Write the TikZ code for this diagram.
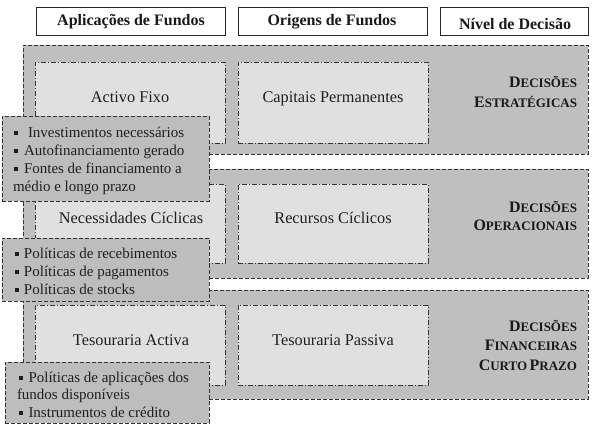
\documentclass[tikz,border=0pt]{standalone}
\usepackage{fontspec}
\setmainfont{Liberation Serif}
\newcommand{\mybul}{\rule[2pt]{4pt}{4pt}}
\newcommand{\scA}[1]{{\fontsize{16}{19}\selectfont #1}}
\newcommand{\scB}[1]{{\fontsize{13}{19}\selectfont #1}}
\begin{document}
\begin{tikzpicture}[x=1pt,y=-1pt,
  every node/.style={inner sep=0pt, outer sep=0pt},
  header/.style={draw=black!85, line width=0.9pt, fill=white},
  band/.style={draw=black!80, line width=0.9pt, dash pattern=on 4pt off 2pt, fill=black!25},
  inbox/.style={draw=black!80, line width=0.8pt, dash pattern=on 5pt off 2pt on 1pt off 2pt, fill=black!12},
  callout/.style={draw=black!80, line width=0.9pt, dash pattern=on 4pt off 2pt, fill=black!26},
  htext/.style={font=\bfseries\fontsize{16}{19}\selectfont, text=black!90, anchor=base},
  itext/.style={font=\fontsize{16.3}{19}\selectfont, text=black!88, anchor=base},
  ctext/.style={font=\fontsize{15}{18}\selectfont, text=black!88, anchor=base west},
  dtext/.style={font=\bfseries, text=black!90, anchor=base east}
]
\useasboundingbox (0,0) rectangle (593,428);
\fill[white] (0,0) rectangle (593,428);

% headers
\node[header, minimum width=189pt, minimum height=28pt] (h1) at (130.5,21) {};
\node[header, minimum width=189pt, minimum height=28pt] (h2) at (332.5,21) {};
\node[header, minimum width=148pt, minimum height=28pt] (h3) at (514,21) {};
\node[htext] (h1t) at (131,26) {Aplicações de Fundos};
\node[htext] (h2t) at (332,26) {Origens de Fundos};
\node[htext] (h3t) at (515,29.5) {Nível de Decisão};

% bands
\node[band, minimum width=565pt, minimum height=109pt] (b1) at (305.5,99.5) {};
\node[band, minimum width=565pt, minimum height=109pt] (b2) at (305.5,223.5) {};
\node[band, minimum width=565pt, minimum height=109pt] (b3) at (305.5,344.5) {};

% inner boxes
\node[inbox, minimum width=190pt, minimum height=81pt] (i11) at (130,102.5) {};
\node[inbox, minimum width=190pt, minimum height=81pt] (i12) at (333,102.5) {};
\node[inbox, minimum width=190pt, minimum height=79pt] (i21) at (130,223.5) {};
\node[inbox, minimum width=190pt, minimum height=79pt] (i22) at (333,223.5) {};
\node[inbox, minimum width=190pt, minimum height=80pt] (i31) at (130,345) {};
\node[inbox, minimum width=190pt, minimum height=80pt] (i32) at (333,345) {};

\node[itext] (t11) at (130,102) {Activo Fixo};
\node[itext] (t12) at (333,102) {Capitais Permanentes};
\node[itext] (t21) at (131,223) {Necessidades Cíclicas};
\node[itext] (t22) at (333,223) {Recursos Cíclicos};
\node[itext] (t31) at (131,345) {Tesouraria Activa};
\node[itext] (t32) at (333,345) {Tesouraria Passiva};

% decision levels
\node[dtext] (d11) at (577,87) {\scA{D}\scB{ECISÕES}};
\node[dtext] (d12) at (577,107) {\scA{E}\scB{STRATÉGICAS}};
\node[dtext] (d21) at (577,212) {\scA{D}\scB{ECISÕES}};
\node[dtext] (d22) at (577,230) {\scA{O}\scB{PERACIONAIS}};
\node[dtext] (d31) at (577,331) {\scA{D}\scB{ECISÕES}};
\node[dtext] (d32) at (577,350) {\scA{F}\scB{INANCEIRAS}};
\node[dtext] (d33) at (577,370) {\scA{C}\scB{URTO} \scA{P}\scB{RAZO}};

% callouts
\node[callout, minimum width=207pt, minimum height=85pt] (c1) at (105.5,158.5) {};
\node[callout, minimum width=207pt, minimum height=63pt] (c2) at (105.5,269.5) {};
\node[callout, minimum width=204pt, minimum height=61pt] (c3) at (107,392.5) {};

\node[ctext] (c1a) at (14,137) {\mybul\hspace{10pt}Investimentos necessários};
\node[ctext] (c1b) at (14,155) {\mybul\hspace{6pt}Autofinanciamento gerado};
\node[ctext] (c1c) at (14,173) {\mybul\hspace{6pt}Fontes de financiamento a};
\node[ctext] (c1d) at (13,191) {médio e longo prazo};

\node[ctext] (c2a) at (15,258) {\mybul\hspace{5pt}Políticas de recebimentos};
\node[ctext] (c2b) at (15,276) {\mybul\hspace{5pt}Políticas de pagamentos};
\node[ctext] (c2c) at (15,294) {\mybul\hspace{5pt}Políticas de stocks};

\node[ctext] (c3a) at (18.5,382) {\mybul\hspace{6pt}Políticas de aplicações dos};
\node[ctext] (c3b) at (17,399.5) {fundos disponíveis};
\node[ctext] (c3c) at (18.5,417) {\mybul\hspace{6pt}Instrumentos de crédito};
\end{tikzpicture}
\end{document}
